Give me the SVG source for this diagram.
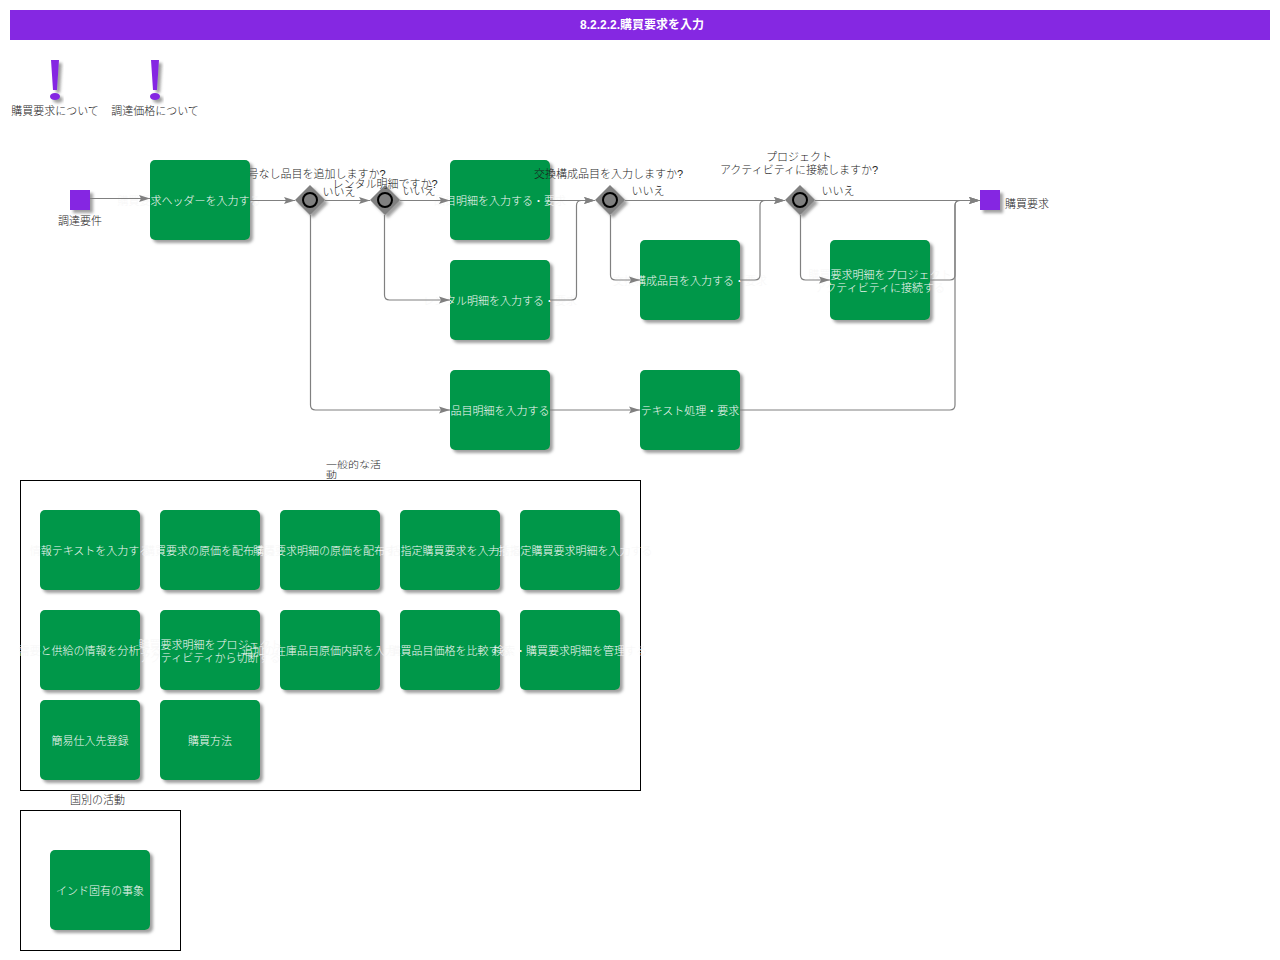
<svg xmlns="http://www.w3.org/2000/svg" width="1280" height="960" viewBox="0 0 1280 960">
<style>
text{font-family:"Liberation Sans","Noto Sans CJK JP",sans-serif;font-size:11px;font-weight:300;fill:#1c1c1c;text-anchor:middle}
.n{fill:#029748;filter:url(#s)}
.t{fill:#f7f7f7}
.g{fill:#808080;filter:url(#s)}
.c{fill:#808080;stroke:#000;stroke-width:2}
.ex{fill:#8528e2;filter:url(#s)}
.l{fill:none;stroke:#808080;stroke-width:1.2}
.f{fill:#fff;stroke:#000;stroke-width:1}
</style>
<defs>
<filter id="s" x="-30%" y="-30%" width="170%" height="170%"><feDropShadow dx="3" dy="3" stdDeviation="1.5" flood-color="#777" flood-opacity=".7"/></filter>
<marker id="a" markerUnits="userSpaceOnUse" markerWidth="12" markerHeight="9" refX="11" refY="4" orient="auto"><path d="M0 .5L11 4L0 7.500L2 4Z" fill="#808080"/></marker>
</defs>
<rect id="title-bar" x="10" y="10" width="1260" height="30" fill="#8528e2"/>
<text x="642" y="29" style="fill:#fff;font-weight:bold;font-size:12px">8.2.2.2.購買要求を入力</text>
<g id="note1"><path class="ex" d="M51 60H59L57 90H53ZM55 93C58 93 60 94.500 60 96.500C60 98.500 58 100 55 100C52 100 50 98.500 50 96.500C50 94.500 52 93 55 93Z"/><text x="55" y="115">購買要求について</text></g>
<g id="note2"><path class="ex" d="M151 60H159L157 90H153ZM155 93C158 93 160 94.500 160 96.500C160 98.500 158 100 155 100C152 100 150 98.500 150 96.500C150 94.500 152 93 155 93Z"/><text x="155" y="115">調達価格について</text></g>
<g id="start"><rect x="70" y="190" width="20" height="20" class="ex"/><text x="80" y="225">調達要件</text></g>
<g id="gw1"><path class="g" d="M310 185L325 200L310 215L295 200Z"/><circle class="c" cx="310" cy="200" r="7"/><text x="311" y="178">番号なし品目を追加しますか?</text><text x="339" y="196">いいえ</text></g>
<g id="n1"><rect class="n" x="150" y="160" width="100" height="80" rx="5"/><text class="t" x="117.500" y="205" style="text-anchor:start">購買要求ヘッダーを入力する</text></g>
<g id="gw2"><path class="g" d="M385 185L400 200L385 215L370 200Z"/><circle class="c" cx="385" cy="200" r="7"/><text x="385" y="188">レンタル明細ですか?</text><text x="419" y="195">いいえ</text></g>
<g id="n2"><rect class="n" x="450" y="160" width="100" height="80" rx="5"/><text class="t" x="500" y="205">品目明細を入力する・要求</text></g>
<g id="n3"><rect class="n" x="450" y="260" width="100" height="80" rx="5"/><text class="t" x="500" y="305">レンタル明細を入力する・要求</text></g>
<g id="n4"><rect class="n" x="450" y="370" width="100" height="80" rx="5"/><text class="t" x="500" y="415">品目明細を入力する</text></g>
<g id="gw3"><path class="g" d="M610 185L625 200L610 215L595 200Z"/><circle class="c" cx="610" cy="200" r="7"/><text x="608.500" y="178">交換構成品目を入力しますか?</text><text x="648" y="195">いいえ</text></g>
<g id="n5"><rect class="n" x="640" y="240" width="100" height="80" rx="5"/><text class="t" x="690" y="285">交換構成品目を入力する・要求</text></g>
<g id="n6"><rect class="n" x="640" y="370" width="100" height="80" rx="5"/><text class="t" x="690" y="415">テキスト処理・要求</text></g>
<g id="gw4"><path class="g" d="M800 185L815 200L800 215L785 200Z"/><circle class="c" cx="800" cy="200" r="7"/><text x="799" y="161">プロジェクト</text><text x="799" y="174">アクティビティに接続しますか?</text><text x="838" y="195">いいえ</text></g>
<g id="n7"><rect class="n" x="830" y="240" width="100" height="80" rx="5"/><text class="t" x="880" y="279">購買要求明細をプロジェクト</text><text class="t" x="880" y="292">アクティビティに接続する</text></g>
<g id="end"><rect x="980" y="190" width="20" height="20" class="ex"/><text x="1027" y="208">購買要求</text></g>
<g id="connectors">
<path class="l" marker-end="url(#a)" d="M90 198.500H150"/>
<path class="l" marker-end="url(#a)" d="M250 200.500H295"/>
<path class="l" marker-end="url(#a)" d="M325 200.500H370"/>
<path class="l" marker-end="url(#a)" d="M400 200.500H450"/>
<path class="l" marker-end="url(#a)" d="M550 200.500H595"/>
<path class="l" marker-end="url(#a)" d="M625 200.500H785"/>
<path class="l" marker-end="url(#a)" d="M815 200.500H980"/>
<path class="l" marker-end="url(#a)" d="M310.500 215V405Q310.500 410 315.500 410H450"/>
<path class="l" marker-end="url(#a)" d="M384.500 215V295Q384.500 300 389.500 300H450"/>
<path class="l" marker-end="url(#a)" d="M550 300H571.500Q576.500 300 576.500 295V205.500Q576.500 200.500 581.500 200.500H595"/>
<path class="l" marker-end="url(#a)" d="M610.500 215V275Q610.500 280 615.500 280H640"/>
<path class="l" marker-end="url(#a)" d="M740 280H755Q760 280 760 275V205.500Q760 200.500 765 200.500H785"/>
<path class="l" marker-end="url(#a)" d="M800.500 215V275Q800.500 280 805.500 280H830"/>
<path class="l" marker-end="url(#a)" d="M930 280H950Q955 280 955 275V205.500Q955 200.500 960 200.500H980"/>
<path class="l" marker-end="url(#a)" d="M550 410H640"/>
<path class="l" marker-end="url(#a)" d="M740 410H950Q955 410 955 405V205.500Q955 200.500 960 200.500H980"/>
</g>
<g id="frame-general"><rect class="f" x="20.500" y="480.500" width="620" height="310"/><text transform="translate(326 468) scale(1 .8)" style="text-anchor:start">一般的な活</text><text transform="translate(326 478) scale(1 .8)" style="text-anchor:start">動</text></g>
<g id="a1"><rect class="n" x="40" y="510" width="100" height="80" rx="5"/><text class="t" x="90" y="555">情報テキストを入力する</text></g>
<g id="a2"><rect class="n" x="160" y="510" width="100" height="80" rx="5"/><text class="t" x="210" y="555">購買要求の原価を配布する</text></g>
<g id="a3"><rect class="n" x="280" y="510" width="100" height="80" rx="5"/><text class="t" x="330" y="555">購買要求明細の原価を配布する</text></g>
<g id="a4"><rect class="n" x="400" y="510" width="100" height="80" rx="5"/><text class="t" x="450" y="555">一括指定購買要求を入力する</text></g>
<g id="a5"><rect class="n" x="520" y="510" width="100" height="80" rx="5"/><text class="t" x="570" y="555">一括指定購買要求明細を入力する</text></g>
<g id="a6"><rect class="n" x="40" y="610" width="100" height="80" rx="5"/><text class="t" x="90" y="655">需要と供給の情報を分析する</text></g>
<g id="a7"><rect class="n" x="160" y="610" width="100" height="80" rx="5"/><text class="t" x="210" y="649">購買要求明細をプロジェクト</text><text class="t" x="210" y="662">アクティビティから切断する</text></g>
<g id="a8"><rect class="n" x="280" y="610" width="100" height="80" rx="5"/><text class="t" x="330" y="655">追加の在庫品目原価内訳を入力する</text></g>
<g id="a9"><rect class="n" x="400" y="610" width="100" height="80" rx="5"/><text class="t" x="450" y="655">購買品目価格を比較する</text></g>
<g id="a10"><rect class="n" x="520" y="610" width="100" height="80" rx="5"/><text class="t" x="570" y="655">検索・購買要求明細を管理する</text></g>
<g id="a11"><rect class="n" x="40" y="700" width="100" height="80" rx="5"/><text class="t" x="90" y="745">簡易仕入先登録</text></g>
<g id="a12"><rect class="n" x="160" y="700" width="100" height="80" rx="5"/><text class="t" x="210" y="745">購買方法</text></g>
<g id="frame-country"><rect class="f" x="20.500" y="810.500" width="160" height="140"/><text x="97.500" y="804">国別の活動</text></g>
<g id="b1"><rect class="n" x="50" y="850" width="100" height="80" rx="5"/><text class="t" x="100" y="895">インド固有の事象</text></g>
</svg>
